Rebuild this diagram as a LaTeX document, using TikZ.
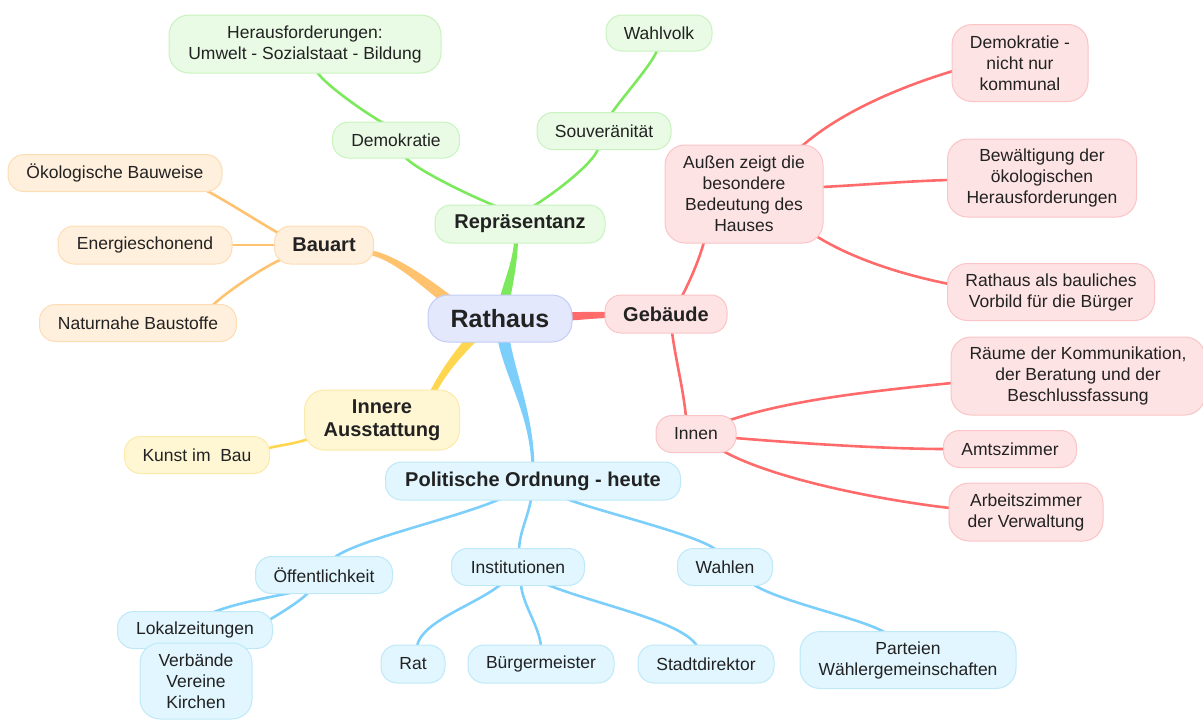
\documentclass[tikz,border=0pt]{standalone}
\usepackage{fontspec}
\setmainfont{Liberation Sans}
\usetikzlibrary{calc}
\pgfdeclarelayer{bg}
\pgfsetlayers{bg,main}

\definecolor{ink}{HTML}{222222}
\definecolor{gfill}{HTML}{E9FBE5}\definecolor{gbord}{HTML}{C8F3BF}\definecolor{gline}{HTML}{7CE95C}
\definecolor{ofill}{HTML}{FFEFDD}\definecolor{obord}{HTML}{FDDDB5}\definecolor{oline}{HTML}{FFC36F}
\definecolor{yfill}{HTML}{FFF6D4}\definecolor{ybord}{HTML}{FCEAA8}\definecolor{yline}{HTML}{FFD650}
\definecolor{rfill}{HTML}{FEE3E4}\definecolor{rbord}{HTML}{FBC4C6}\definecolor{rline}{HTML}{FF6B6B}
\definecolor{bfill}{HTML}{E1F6FE}\definecolor{bbord}{HTML}{BFE9F9}\definecolor{bline}{HTML}{7CCFFA}
\definecolor{cfill}{HTML}{E3E8FC}\definecolor{cbord}{HTML}{C3CCF5}

\newcommand\nf{\fontsize{17.5}{21}\selectfont}
\newcommand\hdf{\fontsize{20}{23}\selectfont\bfseries}
\newcommand\rootf{\fontsize{25}{28}\selectfont\bfseries}

% tapered main branch: colour, start, control 1, control 2, end, half width at start, half width at end
\newcommand\taper[7]{%
  \fill[#1] ($(#2)!#6!90:(#3)$) .. controls ($(#3)!#6!-90:(#2)$) and ($(#4)!#7!90:(#5)$) .. ($(#5)!#7!-90:(#4)$)
    -- ($(#5)!#7!90:(#4)$) .. controls ($(#4)!#7!-90:(#5)$) and ($(#3)!#6!90:(#2)$) .. ($(#2)!#6!-90:(#3)$) -- cycle;}

\tikzset{
  bx/.style={rounded corners=16pt, line width=1pt, inner sep=0pt, align=center, text=ink, font=\nf},
  sz/.style 2 args={minimum width=#1pt, minimum height=#2pt},
  hd/.style={font=\hdf},
  gbx/.style={bx, fill=gfill, draw=gbord},
  obx/.style={bx, fill=ofill, draw=obord},
  ybx/.style={bx, fill=yfill, draw=ybord},
  rbx/.style={bx, fill=rfill, draw=rbord},
  bbx/.style={bx, fill=bfill, draw=bbord},
  ln/.style={line width=2.6pt, line cap=round},
  gl/.style={ln, draw=gline},
  ol/.style={ln, draw=oline},
  yl/.style={ln, draw=yline},
  rl/.style={ln, draw=rline},
  bl/.style={ln, draw=bline},
}

\begin{document}
\begin{tikzpicture}[x=1pt, y=-1pt]
\useasboundingbox (0,0) rectangle (1203,720);

% centre
\node[bx, fill=cfill, draw=cbord, sz={144}{47}, font=\rootf, rounded corners=20pt] (rat) at (500,318.5) {Rathaus};

% Repraesentanz branch
\node[gbx, hd, sz={170}{38}] (rep) at (520,224) {Repräsentanz};
\node[gbx, sz={127}{36}] (demo) at (396,140) {Demokratie};
\node[gbx, sz={272}{58}, rounded corners=20pt] (heraus) at (305,44) {Herausforderungen:\\Umwelt - Sozialstaat - Bildung};
\node[gbx, sz={134}{37}] (souv) at (604,131) {Souveränität};
\node[gbx, sz={106}{36}] (wahl) at (659,33) {Wahlvolk};

% Bauart branch
\node[obx, hd, sz={99}{38}] (bauart) at (324,245) {Bauart};
\node[obx, sz={214}{37}] (oko) at (115,173) {Ökologische Bauweise};
\node[obx, sz={174}{38}] (energie) at (145,245) {Energieschonend};
\node[obx, sz={197}{37}] (natur) at (138,323) {Naturnahe Baustoffe};

% Innere Ausstattung branch
\node[ybx, hd, sz={155}{60}, rounded corners=20pt] (innere) at (382,420) {Innere\\Ausstattung};
\node[ybx, sz={145}{37}] (kunst) at (197,455) {Kunst im~ Bau};

% Gebaeude branch
\node[rbx, hd, sz={122}{38}] (geb) at (666,314) {Gebäude};
\node[rbx, sz={158}{98}, rounded corners=20pt] (aussen) at (744,194) {Außen zeigt die\\besondere\\Bedeutung des\\Hauses};
\node[rbx, sz={136}{77}, rounded corners=20pt] (demo2) at (1020,63) {Demokratie -\\nicht nur\\kommunal};
\node[rbx, sz={189}{78}, rounded corners=20pt] (bew) at (1042,178) {Bewältigung der\\ökologischen\\Herausforderungen};
\node[rbx, sz={207}{57}, rounded corners=20pt] (rav) at (1051,292) {Rathaus als bauliches\\Vorbild für die Bürger};
\node[rbx, sz={80}{37}] (innen) at (696,434) {Innen};
\node[rbx, sz={254}{78}, rounded corners=20pt] (raum) at (1078,376) {Räume der Kommunikation,\\der Beratung und der\\Beschlussfassung};
\node[rbx, sz={133}{37}] (amts) at (1010,449) {Amtszimmer};
\node[rbx, sz={154}{58}, rounded corners=20pt] (arb) at (1026,512) {Arbeitszimmer\\der Verwaltung};

% Politische Ordnung branch
\node[bbx, hd, sz={295}{38}] (pol) at (533,481) {Politische Ordnung - heute};
\node[bbx, sz={137}{37}] (off) at (324,575) {Öffentlichkeit};
\node[bbx, sz={155}{37}] (lokal) at (195,630) {Lokalzeitungen};
\node[bbx, sz={112}{76}, rounded corners=20pt] (verb) at (196,681) {Verbände\\Vereine\\Kirchen};
\node[bbx, sz={133}{37}] (inst) at (518,567) {Institutionen};
\node[bbx, sz={64}{38}] (rat2) at (413,664) {Rat};
\node[bbx, sz={146}{38}] (burg) at (541,664) {Bürgermeister};
\node[bbx, sz={136}{38}] (stadt) at (706,664) {Stadtdirektor};
\node[bbx, sz={95}{37}] (wahlen) at (725,567) {Wahlen};
\node[bbx, sz={216}{57}, rounded corners=20pt] (part) at (908,660) {Parteien\\Wählergemeinschaften};

\begin{pgfonlayer}{bg}
  % main branches, thick at the centre and thin at the child
  \coordinate (g0) at ($(rat)+(2,-6)$);   \coordinate (g1) at ($(rat)+(7,-33)$);
  \coordinate (g2) at ($(rep)+(-4,38)$);  \coordinate (g3) at ($(rep)+(-4,14)$);
  \taper{gline}{g0}{g1}{g2}{g3}{5.5pt}{2pt}

  \coordinate (o0) at ($(rat)+(-45,-13)$); \coordinate (o1) at ($(rat)+(-75,-36)$);
  \coordinate (o2) at ($(bauart)+(71,12)$); \coordinate (o3) at ($(bauart)+(44,7)$);
  \taper{oline}{o0}{o1}{o2}{o3}{5.5pt}{2.5pt}

  \coordinate (y0) at ($(rat)+(-22,14)$);  \coordinate (y1) at ($(rat)+(-35,27)$);
  \coordinate (y2) at ($(innere)+(63,-52)$); \coordinate (y3) at ($(innere)+(50,-26)$);
  \taper{yline}{y0}{y1}{y2}{y3}{5pt}{3pt}

  \coordinate (b0) at ($(rat)+(2,12)$);    \coordinate (b1) at ($(rat)+(9,57)$);
  \coordinate (b2) at ($(pol)+(-2,-71)$);  \coordinate (b3) at ($(pol)+(0,-15)$);
  \taper{bline}{b0}{b1}{b2}{b3}{6pt}{1.6pt}

  \coordinate (r0) at ($(rat)+(65,-2)$);   \coordinate (r1) at ($(rat)+(80,-2.5)$);
  \coordinate (r2) at ($(geb)+(-71,1)$);   \coordinate (r3) at ($(geb)+(-54,1)$);
  \taper{rline}{r0}{r1}{r2}{r3}{4.2pt}{3pt}

  % Repraesentanz
  \draw[gl] ($(rep)+(-22,-17)$) .. controls +(-30,-12) and +(10,12) .. ($(demo)+(9,17)$);
  \draw[gl] ($(demo)+(-13,-17)$) .. controls +(-25,-15) and +(8,12) .. ($(heraus)+(12,28)$);
  \draw[gl] ($(rep)+(12,-17)$) .. controls +(20,-12) and +(-5,15) .. ($(souv)+(-6,18)$);
  \draw[gl] ($(souv)+(7,-17)$) .. controls +(10,-15) and +(-3,12) .. ($(wahl)+(-2,17)$);

  % Bauart
  \draw[ol] ($(bauart)+(-44,-11)$) .. controls +(-18,-10) and +(15,7) .. ($(oko)+(90,17)$);
  \draw[ol] (bauart.west) -- (energie.east);
  \draw[ol] ($(bauart)+(-44,15)$) .. controls +(-18,8) and +(12,-12) .. ($(natur)+(75,-18)$);

  % Innere Ausstattung
  \draw[yl] ($(innere)+(-74,19)$) .. controls +(-14,5) and +(12,-3) .. ($(kunst)+(72,-7)$);

  % Gebaeude
  \draw[rl] ($(geb)+(16,-18)$) .. controls +(8,-15) and +(-5,18) .. ($(aussen)+(-40,48)$);
  \draw[rl] ($(aussen)+(58,-48)$) .. controls +(40,-35) and +(-50,15) .. ($(demo2)+(-67,8)$);
  \draw[rl] ($(aussen)+(78,-7)$) .. controls +(40,-2) and +(-40,1) .. ($(bew)+(-93,2)$);
  \draw[rl] ($(aussen)+(72,42)$) .. controls +(40,25) and +(-40,-8) .. ($(rav)+(-102,-8)$);
  \draw[rl] ($(geb)+(6,18)$) .. controls +(4,30) and +(-3,-30) .. ($(innen)+(-10,-17)$);
  \draw[rl] ($(innen)+(34,-14)$) .. controls +(60,-20) and +(-80,8) .. ($(raum)+(-126,7)$);
  \draw[rl] ($(innen)+(39,4)$) .. controls +(60,5) and +(-60,0) .. ($(amts)+(-65,0)$);
  \draw[rl] ($(innen)+(27,17)$) .. controls +(50,28) and +(-70,-8) .. ($(arb)+(-76,-4)$);

  % Politische Ordnung
  \draw[bl] ($(pol)+(-33,18)$) .. controls +(-40,18) and +(25,-18) .. ($(off)+(11,-18)$);
  \draw[bl] ($(pol)+(-2,18)$) .. controls +(-3,18) and +(1,-18) .. ($(inst)+(1,-18)$);
  \draw[bl] ($(pol)+(34,18)$) .. controls +(30,12) and +(-20,-15) .. ($(wahlen)+(-10,-18)$);
  \draw[bl] ($(off)+(-34,18)$) .. controls +(-25,5) and +(20,-8) .. ($(lokal)+(19,-18)$);
  \draw[bl] ($(off)+(-16,18)$) .. controls +(-15,15) and +(25,-15) .. ($(verb)+(30,-36)$);
  \draw[bl] ($(inst)+(-18,18)$) .. controls +(-25,20) and +(5,-25) .. ($(rat2)+(4,-18)$);
  \draw[bl] ($(inst)+(3,18)$) .. controls +(2,20) and +(-2,-20) .. ($(burg)+(0,-18)$);
  \draw[bl] ($(inst)+(30,18)$) .. controls +(50,20) and +(-15,-25) .. ($(stadt)+(-9,-18)$);
  \draw[bl] ($(wahlen)+(29,18)$) .. controls +(30,18) and +(-25,-15) .. ($(part)+(-22,-27)$);
\end{pgfonlayer}
\end{tikzpicture}
\end{document}
